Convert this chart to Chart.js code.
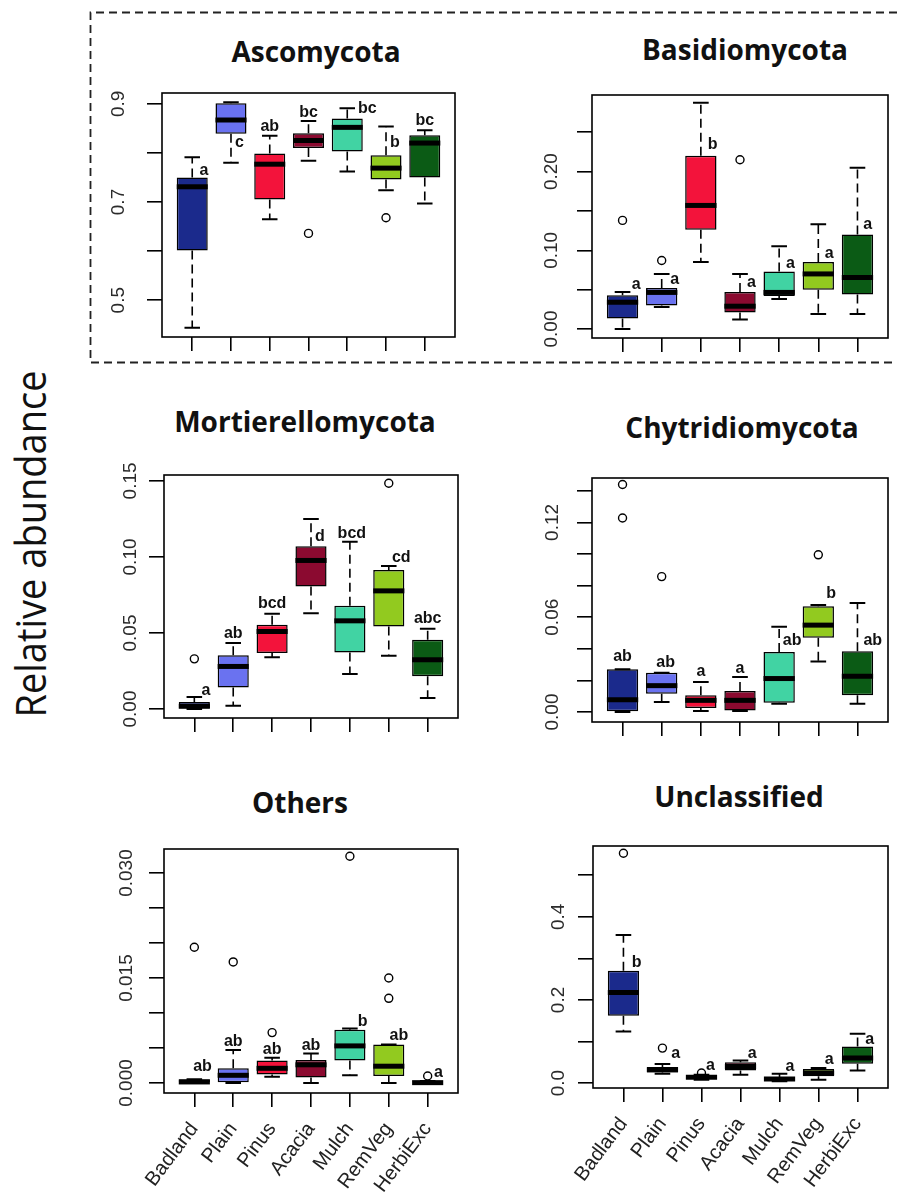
<!DOCTYPE html>
<html lang="en">
<head>
<meta charset="UTF-8">
<title>Relative abundance of fungal phyla</title>
<script src="https://cdn.jsdelivr.net/npm/chart.js"></script>
<style>
  body { margin: 0; background: #fff; }
  #page { position: relative; width: 897px; height: 1196px; overflow: hidden; background: #fff; }
  #page canvas { position: absolute; }
  #frame { position: absolute; left: 0; top: 0; }
  .title { position: absolute; width: 400px; text-align: center; font-family: 'Open Sans', sans-serif;
           font-weight: 700; font-size: 28px; line-height: 28px; color: #111; white-space: nowrap; }
  #ylab { position: absolute; left: -221px; top: 519px; width: 500px; height: 50px; line-height: 50px;
          text-align: center; font-family: 'Open Sans', sans-serif; font-size: 38px; color: #111;
          transform: rotate(-90deg) scaleY(1.12); white-space: nowrap; }
</style>
</head>
<body>
<div id="page">
  <svg id="frame" width="897" height="1196">
    <path d="M897 12.5 H90.5 V362.5 H897" fill="none" stroke="#222" stroke-width="1.8" stroke-dasharray="8 5"/>
  </svg>
  <div id="ylab">Relative abundance</div>
</div>

<script>
const categories = ['Badland', 'Plain', 'Pinus', 'Acacia', 'Mulch', 'RemVeg', 'HerbiExc'];
const boxColors = ['#1b2a8c', '#6a72f0', '#f3133b', '#8b0a30', '#41d3a3', '#92ca1f', '#0b5b15'];

// Ascomycota
const ascoLow  = [0.444, 0.780, 0.665, 0.784, 0.762, 0.724, 0.697];
const ascoQ1   = [0.601, 0.839, 0.705, 0.810, 0.803, 0.746, 0.750];
const ascoMed  = [0.731, 0.867, 0.777, 0.825, 0.852, 0.769, 0.820];
const ascoQ3   = [0.750, 0.901, 0.799, 0.840, 0.870, 0.795, 0.836];
const ascoHigh = [0.791, 0.903, 0.835, 0.865, 0.891, 0.854, 0.846];
const ascoOut  = [[], [], [], [0.636], [], [0.668], []];
const ascoLetters  = ['a', 'c', 'ab', 'bc', 'bc', 'b', 'bc'];
const ascoLetterDx = [0.30, 0.22, 0, 0, 0.52, 0.23, 0];
const ascoLetterY  = [0.763, 0.820, 0.854, 0.882, 0.891, 0.820, 0.866];
const ascoRange = [0.425, 0.922];
const ascoTicks = [0.5, 0.6, 0.7, 0.8, 0.9];
const ascoTickLabels = ['0.5', '', '0.7', '', '0.9'];

// Basidiomycota
const basiLow  = [0.000, 0.028, 0.085, 0.012, 0.038, 0.019, 0.019];
const basiQ1   = [0.0135, 0.030, 0.126, 0.021, 0.042, 0.050, 0.044];
const basiMed  = [0.034, 0.0465, 0.157, 0.029, 0.0465, 0.070, 0.0655];
const basiQ3   = [0.043, 0.052, 0.220, 0.047, 0.073, 0.085, 0.120];
const basiHigh = [0.047, 0.070, 0.2875, 0.070, 0.105, 0.133, 0.205];
const basiOut  = [[0.138], [0.087], [], [0.215], [], [], []];
const basiLetters  = ['a', 'a', 'b', 'a', 'a', 'a', 'a'];
const basiLetterDx = [0.35, 0.33, 0.30, 0.29, 0.29, 0.28, 0.26];
const basiLetterY  = [0.056, 0.0626, 0.2347, 0.059, 0.0837, 0.0956, 0.1323];
const basiRange = [-0.0114, 0.2973];
const basiTicks = [0, 0.05, 0.10, 0.15, 0.20, 0.25];
const basiTickLabels = ['0.00', '', '0.10', '', '0.20', ''];

// Mortierellomycota
const mortLow  = [0, 0.0022, 0.034, 0.063, 0.023, 0.035, 0.0072];
const mortQ1   = [0, 0.0142, 0.0368, 0.0806, 0.0372, 0.0543, 0.0215];
const mortMed  = [0.0018, 0.028, 0.051, 0.0977, 0.058, 0.0777, 0.0324];
const mortQ3   = [0.0046, 0.0353, 0.0554, 0.107, 0.0679, 0.0915, 0.0455];
const mortHigh = [0.0079, 0.0434, 0.0626, 0.125, 0.110, 0.094, 0.0528];
const mortOut  = [[0.033], [], [], [], [], [0.1485], []];
const mortLetters  = ['a', 'ab', 'bcd', 'd', 'bcd', 'cd', 'abc'];
const mortLetterDx = [0.30, 0, 0, 0.23, 0.05, 0.32, 0];
const mortLetterY  = [0.0123, 0.0499, 0.0692, 0.1134, 0.1156, 0.0998, 0.0593];
const mortRange = [-0.0059, 0.1539];
const mortTicks = [0, 0.05, 0.10, 0.15];
const mortTickLabels = ['0.00', '0.05', '0.10', '0.15'];

// Chytridiomycota
const chytLow  = [0, 0.0063, 0.0006, 0.0006, 0.0053, 0.032, 0.0053];
const chytQ1   = [0, 0.0116, 0.0025, 0.001, 0.0059, 0.047, 0.0106];
const chytMed  = [0.0078, 0.0167, 0.0074, 0.0074, 0.0212, 0.055, 0.0226];
const chytQ3   = [0.0271, 0.0248, 0.0106, 0.0133, 0.038, 0.067, 0.0385];
const chytHigh = [0.0271, 0.0248, 0.019, 0.0222, 0.054, 0.0677, 0.069];
const chytOut  = [[0.144, 0.1228], [0.0857], [], [], [], [0.0995], []];
const chytLetters  = ['ab', 'ab', 'a', 'a', 'ab', 'b', 'ab'];
const chytLetterDx = [0, 0.1, 0, 0, 0.33, 0.33, 0.39];
const chytLetterY  = [0.0349, 0.0311, 0.0254, 0.0275, 0.0451, 0.0747, 0.0451];
const chytRange = [-0.0063, 0.1481];
const chytTicks = [0, 0.02, 0.04, 0.06, 0.08, 0.10, 0.12, 0.14];
const chytTickLabels = ['0.00', '', '', '0.06', '', '', '0.12', ''];

// Others
const othLow  = [0, 0, 0.0009, 0, 0.0011, 0, 0];
const othQ1   = [0, 0, 0.0012, 0.0008, 0.0032, 0.001, 0];
const othMed  = [0.00015, 0.0011, 0.0021, 0.0026, 0.0053, 0.0024, 0.00005];
const othQ3   = [0.00053, 0.0021, 0.0032, 0.0033, 0.0076, 0.0055, 0.0002];
const othHigh = [0.00053, 0.0047, 0.0036, 0.0042, 0.0078, 0.0055, 0.0003];
const othOut  = [[0.0194], [0.0173], [0.0072], [], [0.0324], [0.015, 0.0121], [0.001]];
const othLetters  = ['ab', 'ab', 'ab', 'ab', 'b', 'ab', 'a'];
const othLetterDx = [0.21, 0, 0, 0, 0.33, 0.26, 0.28];
const othLetterY  = [0.0023, 0.0059, 0.0048, 0.0054, 0.0088, 0.0068, 0.0015];
const othRange = [-0.00143, 0.03344];
const othTicks = [0, 0.005, 0.010, 0.015, 0.020, 0.025, 0.030];
const othTickLabels = ['0.000', '', '', '0.015', '', '', '0.030'];

// Unclassified
const unclLow  = [0.124, 0.0224, 0.008, 0.020, 0.004, 0.008, 0.0304];
const unclQ1   = [0.162, 0.0256, 0.0096, 0.0304, 0.0056, 0.016, 0.0465];
const unclMed  = [0.218, 0.032, 0.0136, 0.040, 0.0096, 0.024, 0.060];
const unclQ3   = [0.270, 0.0385, 0.016, 0.0497, 0.0136, 0.0337, 0.088];
const unclHigh = [0.356, 0.0457, 0.020, 0.054, 0.0224, 0.036, 0.1186];
const unclOut  = [[0.553], [0.084], [0.024], [], [], [], []];
const unclLetters  = ['b', 'a', 'a', 'a', 'a', 'a', 'a'];
const unclLetterDx = [0.34, 0.34, 0.23, 0.30, 0.27, 0.27, 0.31];
const unclLetterY  = [0.290, 0.072, 0.0417, 0.0705, 0.0385, 0.056, 0.104];
const unclRange = [-0.012, 0.5705];
const unclTicks = [0, 0.1, 0.2, 0.3, 0.4, 0.5];
const unclTickLabels = ['0.0', '', '0.2', '', '0.4', ''];

const panels = [
  { title: 'Ascomycota', tx: 316, ty: 62, box: [162, 93, 455, 337], gap: 43, names: false,
    low: ascoLow, q1: ascoQ1, med: ascoMed, q3: ascoQ3, high: ascoHigh, out: ascoOut,
    letters: ascoLetters, letterDx: ascoLetterDx, letterY: ascoLetterY,
    range: ascoRange, ticks: ascoTicks, tickLabels: ascoTickLabels },
  { title: 'Basidiomycota', tx: 745, ty: 60, box: [592, 95, 888, 338], gap: 40, names: false,
    low: basiLow, q1: basiQ1, med: basiMed, q3: basiQ3, high: basiHigh, out: basiOut,
    letters: basiLetters, letterDx: basiLetterDx, letterY: basiLetterY,
    range: basiRange, ticks: basiTicks, tickLabels: basiTickLabels },
  { title: 'Mortierellomycota', tx: 305, ty: 432, box: [164, 475, 458, 718], gap: 33, names: false,
    low: mortLow, q1: mortQ1, med: mortMed, q3: mortQ3, high: mortHigh, out: mortOut,
    letters: mortLetters, letterDx: mortLetterDx, letterY: mortLetterY,
    range: mortRange, ticks: mortTicks, tickLabels: mortTickLabels },
  { title: 'Chytridiomycota', tx: 742, ty: 438, box: [592, 478, 888, 722], gap: 39, names: false,
    low: chytLow, q1: chytQ1, med: chytMed, q3: chytQ3, high: chytHigh, out: chytOut,
    letters: chytLetters, letterDx: chytLetterDx, letterY: chytLetterY,
    range: chytRange, ticks: chytTicks, tickLabels: chytTickLabels },
  { title: 'Others', tx: 300, ty: 813, box: [164, 849, 458, 1093], gap: 37, names: true,
    low: othLow, q1: othQ1, med: othMed, q3: othQ3, high: othHigh, out: othOut,
    letters: othLetters, letterDx: othLetterDx, letterY: othLetterY,
    range: othRange, ticks: othTicks, tickLabels: othTickLabels },
  { title: 'Unclassified', tx: 739, ty: 807, box: [593, 846, 888, 1088], gap: 34, names: true,
    low: unclLow, q1: unclQ1, med: unclMed, q3: unclQ3, high: unclHigh, out: unclOut,
    letters: unclLetters, letterDx: unclLetterDx, letterY: unclLetterY,
    range: unclRange, ticks: unclTicks, tickLabels: unclTickLabels }
];

const AXIS_FONT = '"Liberation Sans", Arial, sans-serif';
const PAD_TOP = 20;
const PAGE_H = 1196;

// whiskers, caps, medians, frame, y labels and group letters
function boxParts(p) {
  return {
    id: 'boxParts',
    afterDatasetsDraw(chart) {
      const { ctx, scales: { x, y } } = chart;
      const bars = chart.getDatasetMeta(0).data;
      ctx.save();
      ctx.strokeStyle = '#000';
      p.med.forEach((m, i) => {
        const cx = x.getPixelForValue(i + 1);
        const half = bars[i].width / 2;
        const cap = half * 0.5;
        const yLo = y.getPixelForValue(p.low[i]);
        const yHi = y.getPixelForValue(p.high[i]);
        const yQ1 = y.getPixelForValue(p.q1[i]);
        const yQ3 = y.getPixelForValue(p.q3[i]);
        ctx.lineWidth = 1.6;
        ctx.setLineDash([9, 5]);
        ctx.beginPath();
        ctx.moveTo(cx, yQ3); ctx.lineTo(cx, yHi);
        ctx.moveTo(cx, yQ1); ctx.lineTo(cx, yLo);
        ctx.stroke();
        ctx.setLineDash([]);
        ctx.lineWidth = 2;
        ctx.beginPath();
        ctx.moveTo(cx - cap, yHi); ctx.lineTo(cx + cap, yHi);
        ctx.moveTo(cx - cap, yLo); ctx.lineTo(cx + cap, yLo);
        ctx.stroke();
        ctx.lineWidth = 5;
        ctx.beginPath();
        ctx.moveTo(cx - half, y.getPixelForValue(m));
        ctx.lineTo(cx + half, y.getPixelForValue(m));
        ctx.stroke();
      });
      ctx.restore();
    },
    afterDraw(chart) {
      const { ctx, chartArea: a, scales: { x, y } } = chart;
      ctx.save();
      ctx.lineWidth = 1.6;
      ctx.strokeStyle = '#000';
      ctx.strokeRect(a.left, a.top, a.right - a.left, a.bottom - a.top);

      ctx.fillStyle = '#2b2b2b';
      ctx.font = '19px ' + AXIS_FONT;
      ctx.textAlign = 'center';
      ctx.textBaseline = 'middle';
      p.ticks.forEach((v, k) => {
        if (!p.tickLabels[k]) return;
        ctx.save();
        ctx.translate(a.left - p.gap, y.getPixelForValue(v));
        ctx.rotate(-Math.PI / 2);
        ctx.fillText(p.tickLabels[k], 0, 0);
        ctx.restore();
      });

      ctx.fillStyle = '#111';
      ctx.font = 'bold 16px ' + AXIS_FONT;
      p.letters.forEach((t, i) => {
        ctx.fillText(t, x.getPixelForValue(i + 1 + p.letterDx[i]), y.getPixelForValue(p.letterY[i]));
      });
      ctx.restore();
    }
  };
}

const page = document.getElementById('page');

panels.forEach(p => {
  const [l, t, r, b] = p.box;
  const axisH = p.names ? PAGE_H - b : 30;

  const title = document.createElement('div');
  title.className = 'title';
  title.textContent = p.title;
  title.style.left = (p.tx - 200) + 'px';
  title.style.top = (p.ty - 25) + 'px';
  page.appendChild(title);

  const cv = document.createElement('canvas');
  cv.width = (r - l) + 60 + 8;
  cv.height = (b - t) + PAD_TOP + axisH;
  cv.style.left = (l - 60) + 'px';
  cv.style.top = (t - PAD_TOP) + 'px';
  page.appendChild(cv);

  const outPoints = [];
  p.out.forEach((vals, i) => vals.forEach(v => outPoints.push({ x: i + 1, y: v })));

  new Chart(cv, {
    type: 'bar',
    data: {
      datasets: [
        {
          data: categories.map((c, i) => ({ x: i + 1, y: [p.q1[i], p.q3[i]] })),
          backgroundColor: boxColors,
          borderColor: '#000',
          borderWidth: 1.5,
          borderSkipped: false,
          barPercentage: 0.8,
          categoryPercentage: 1
        },
        {
          type: 'scatter',
          data: outPoints,
          pointRadius: 4,
          pointBorderWidth: 1.4,
          pointBorderColor: '#000',
          pointBackgroundColor: 'rgba(0,0,0,0)'
        }
      ]
    },
    options: {
      responsive: false,
      devicePixelRatio: 1,
      animation: false,
      events: [],
      layout: { padding: { left: 0, top: PAD_TOP, right: 8, bottom: 0 } },
      plugins: { legend: { display: false }, tooltip: { enabled: false } },
      scales: {
        x: {
          type: 'linear',
          min: 0.22,
          max: 7.78,
          offset: false,
          bounds: 'data',
          afterBuildTicks: s => { s.ticks = categories.map((c, i) => ({ value: i + 1 })); },
          afterFit: s => { s.height = axisH; },
          border: { display: false },
          grid: { offset: false, drawOnChartArea: false, drawTicks: true, tickLength: 14, color: '#000', lineWidth: 1.6 },
          ticks: {
            display: p.names,
            autoSkip: false,
            minRotation: 53,
            maxRotation: 53,
            padding: 11,
            color: '#222',
            font: { family: AXIS_FONT, size: 20 },
            callback: v => categories[v - 1] || ''
          }
        },
        y: {
          type: 'linear',
          min: p.range[0],
          max: p.range[1],
          beginAtZero: false,
          bounds: 'data',
          afterBuildTicks: s => { s.ticks = p.ticks.map(v => ({ value: v })); },
          afterFit: s => { s.width = 60; },
          border: { display: false },
          grid: { drawOnChartArea: false, drawTicks: true, tickLength: 15, color: '#000', lineWidth: 1.6 },
          ticks: { display: false }
        }
      }
    },
    plugins: [boxParts(p)]
  });
});
</script>
</body>
</html>
